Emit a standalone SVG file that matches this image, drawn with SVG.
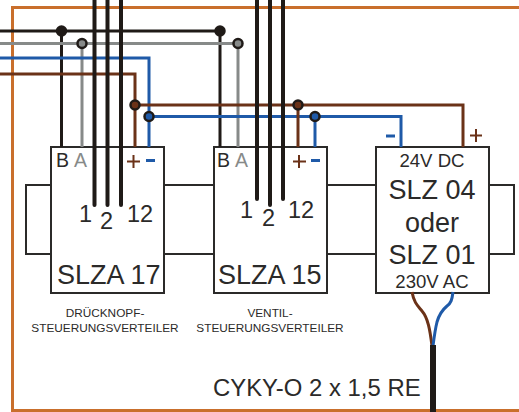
<svg xmlns="http://www.w3.org/2000/svg" width="519" height="412" viewBox="0 0 519 412">
<style>
text{font-family:"Liberation Sans",Arial,sans-serif;fill:#2b2a29}
.w{fill:none;stroke-linejoin:miter}
.bk{stroke:#1f1a17;stroke-width:3}
.bk4{stroke:#1f1a17;stroke-width:4;stroke-linecap:round}
.gr{stroke:#878a89;stroke-width:3}
.bl{stroke:#1f5aa8;stroke-width:3}
.br{stroke:#6b3218;stroke-width:3}
.sg{stroke:#6b3218;stroke-width:2}
.or{stroke:#c96f2c;stroke-width:3}
.th{stroke:#2b2a29;stroke-width:2}
.box{fill:#fff;stroke:#2b2a29;stroke-width:2}
.dot{stroke:#1f1a17;stroke-width:2.5}
.big{font-size:27px}
.num{font-size:23.5px}
.cap{font-size:11.8px;text-anchor:middle}
.ab{font-size:19.5px}
.m{text-anchor:middle}
</style>
<g id="frame"><path class="w or" d="M519 7.500H12.500V410.500H519"/></g>
<g id="loops">
<path class="w th" d="M51 185H26V254H51M164 185H214M164 254H214M327 185H376M327 254H376M489 185H514V254H489"/>
</g>
<g id="slza17"><rect class="box" x="51" y="147" width="113" height="146"/>
<text x="56" y="167" class="ab">B</text><text x="74" y="167" class="ab" style="fill:#878a89">A</text>
<text x="57" y="284" class="big">SLZA 17</text>
<text x="79" y="222" class="num">1</text><text x="100" y="229" class="num">2</text><text x="127" y="222" class="num">12</text>
<path class="w sg" d="M127 161.500H140M133.500 155V168"/><path class="w bl" d="M146 160.500H155"/>
</g>
<g id="slza15"><rect class="box" x="214" y="147" width="113" height="146"/>
<text x="217" y="167" class="ab">B</text><text x="235" y="167" class="ab" style="fill:#878a89">A</text>
<text x="218" y="284" class="big">SLZA 15</text>
<text x="240" y="218" class="num">1</text><text x="262" y="226" class="num">2</text><text x="288" y="218" class="num">12</text>
<path class="w sg" d="M293 161.500H306M299 155V168"/><path class="w bl" d="M311 160.500H320"/>
</g>
<g id="slz"><rect class="box" x="376" y="147" width="113" height="146"/>
<text x="432" y="167" class="m" style="font-size:18.600px">24V DC</text>
<text x="432" y="199" class="m big">SLZ 04</text>
<text x="432" y="232" class="m big">oder</text>
<text x="432" y="264" class="m big">SLZ 01</text>
<text x="432" y="288" class="m" style="font-size:18.600px">230V AC</text>
</g>
<g id="signs"><path class="w bl" d="M386 136H395"/><path class="w sg" d="M470 135.500H482M476 129V142"/></g>
<g id="captions">
<text x="105" y="317" class="cap">DRÜCKNOPF-</text><text x="105" y="332" class="cap">STEUERUNGSVERTEILER</text>
<text x="270" y="317" class="cap">VENTIL-</text><text x="270" y="332" class="cap">STEUERUNGSVERTEILER</text>
<text x="213" y="396" style="font-size:23.900px">CYKY-O 2 x 1,5 RE</text>
</g>
<g id="connectors">
<path class="w bk" d="M0 31H220M61.500 31V147M220 31V147"/>
<path class="w gr" d="M0 43.500H238M82 43.500V147M238 43.500V147"/>
<path class="w bl" d="M0 58H149V147"/>
<path class="w br" d="M0 74H135V147"/>
<path class="w br" d="M135 105H463V147"/>
<path class="w bl" d="M149 116.500H401V147"/>
<path class="w br" d="M298 105V147"/><path class="w bl" d="M315 116.500V147"/>
<path class="w bk4" d="M94.500 -3V205M121 -3V205M257 -3V199M283 -3V199"/>
<path class="w bk" style="stroke-width:4;stroke-linecap:round" d="M107.500 -3V205M270 -3V205"/>
<path class="w br" d="M412 292C414 303 418 306 422 311C428 318 430 330 432 346"/>
<path class="w bl" d="M453 292C452 300 451 303 447 306C441 311 439 315 437 322C435 330 434 338 433 346"/>
<path class="w" style="stroke:#1f1a17;stroke-width:6" d="M433 345V412"/>
</g>
<g id="junctions">
<circle class="dot" cx="61.500" cy="31" r="4.500" fill="#1f1a17"/><circle class="dot" cx="220" cy="31" r="4.500" fill="#1f1a17"/>
<circle class="dot" cx="82" cy="43.500" r="4.500" fill="#878a89"/><circle class="dot" cx="238" cy="43.500" r="4.500" fill="#878a89"/>
<circle class="dot" cx="135" cy="105" r="4.500" fill="#6b3218"/><circle class="dot" cx="298" cy="105" r="4.500" fill="#6b3218"/>
<circle class="dot" cx="149" cy="116.500" r="4.500" fill="#1f5aa8"/><circle class="dot" cx="315" cy="116.500" r="4.500" fill="#1f5aa8"/>
</g>
</svg>
